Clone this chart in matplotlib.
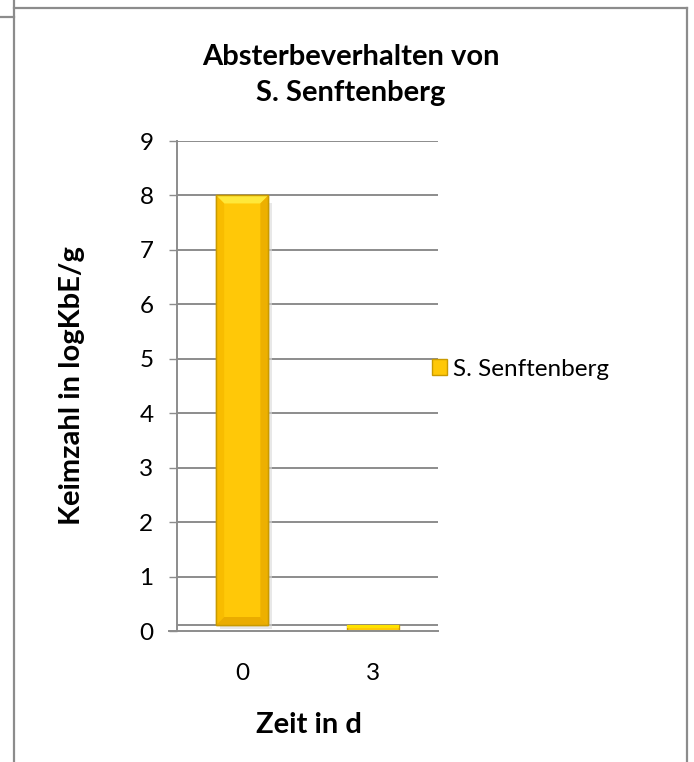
import matplotlib
matplotlib.use("Agg")
import matplotlib.pyplot as plt
import numpy as np
from matplotlib.patches import Polygon
from matplotlib.lines import Line2D

plt.rcParams['font.family'] = ['Lato', 'DejaVu Sans']

# data
categories = ["0", "3"]
values = [8.0, 0.0]
series_name = "S. Senftenberg"
title = "Absterbeverhalten von\nS. Senftenberg"
x_label = "Zeit in d"
y_label = "Keimzahl in logKbE/g"
y_ticks = list(range(0, 10))

W, H = 694, 762
fig = plt.figure(figsize=(W / 100, H / 100), dpi=100)

def fx(px):
    return px / W

def fy(py):
    return 1 - py / H

ax = fig.add_axes([fx(177), fy(631), fx(438) - fx(177), fy(141) - fy(631)])
ax.set_xlim(-0.5, 1.5)
ax.set_ylim(0, 9)

grid_c = "#8c8c8c"
floor_depth = 0.11  # back edge of the floor in the 3-D view

for v in y_ticks[1:]:
    ax.axhline(v, color=grid_c, lw=1.4, zorder=1)
ax.axhline(floor_depth, color=grid_c, lw=1.4, zorder=1)

gold = "#FFC808"
edge = "#C99A00"
xpos = np.arange(len(categories))
heights = np.array(values) - floor_depth
bars = ax.bar(xpos, heights, bottom=floor_depth, width=0.4, color=gold,
              edgecolor=edge, linewidth=1.0, zorder=3, label=series_name)

# bevel shading on the columns
inv = ax.transData.inverted()
def px_to_data(dxp, dyp):
    p0 = inv.transform((0, 0))
    p1 = inv.transform((dxp, dyp))
    return p1[0] - p0[0], p1[1] - p0[1]

bx, by = px_to_data(8, 8)
for r in bars:
    x0, w = r.get_x(), r.get_width()
    y0 = min(r.get_y(), r.get_y() + r.get_height())
    h = abs(r.get_height())
    y1 = y0 + h
    if h > 3 * by:
        top = Polygon([(x0, y1), (x0 + w, y1), (x0 + w - bx, y1 - by), (x0 + bx, y1 - by)],
                      closed=True, facecolor="#FFE83A", edgecolor="none", zorder=4)
        left = Polygon([(x0, y0), (x0, y1), (x0 + bx, y1 - by), (x0 + bx, y0 + by)],
                       closed=True, facecolor="#F8BC00", edgecolor="none", zorder=4)
        right = Polygon([(x0 + w, y0), (x0 + w, y1), (x0 + w - bx, y1 - by), (x0 + w - bx, y0 + by)],
                        closed=True, facecolor="#EDB000", edgecolor="none", zorder=4)
        bot = Polygon([(x0, y0), (x0 + w, y0), (x0 + w - bx, y0 + by), (x0 + bx, y0 + by)],
                      closed=True, facecolor="#EAAC00", edgecolor="none", zorder=4)
        for p in (top, left, right, bot):
            ax.add_patch(p)
        sx, sy = px_to_data(4, 4)
        ax.add_patch(Polygon([(x0 + sx, y0 - sy), (x0 + w + sx, y0 - sy), (x0 + w + sx, y1 - sy * 2),
                              (x0 + w, y1 - sy * 2), (x0 + w, y0), (x0 + sx, y0)],
                             closed=True, facecolor="#d9d9d9", edgecolor="none", alpha=0.6, zorder=2))
        ax.add_patch(Polygon([(x0, y0), (x0, y1), (x0 + w, y1), (x0 + w, y0)], closed=True,
                             facecolor="none", edgecolor=edge, lw=1.0, zorder=5))
    else:
        ax.add_patch(Polygon([(x0, y0 + h * 0.45), (x0 + w, y0 + h * 0.45), (x0 + w, y1), (x0, y1)],
                             closed=True, facecolor="#FFE200", edgecolor="none", zorder=4))

for s in ("top", "right"):
    ax.spines[s].set_visible(False)
ax.spines["left"].set_color(grid_c)
ax.spines["left"].set_linewidth(1.4)
ax.spines["bottom"].set_color(grid_c)
ax.spines["bottom"].set_linewidth(1.4)
ax.spines["bottom"].set_bounds(-0.5 - 0.031 * 2, 1.5)
ax.spines["bottom"].set_zorder(6)

ax.set_yticks(y_ticks)
ax.set_yticklabels([str(v) for v in y_ticks])
ax.set_xticks(xpos)
ax.set_xticklabels(categories)
ax.tick_params(axis="y", length=6, width=1.0, color=grid_c, pad=11, labelsize=17.5)
ax.tick_params(axis="x", length=0, pad=23, labelsize=17.5)
ax.set_facecolor("none")

fig.text(fx(351), fy(75), title, ha="center", va="center", fontsize=21,
         fontweight="bold", linespacing=1.52)
fig.text(fx(309), fy(725), x_label, ha="center", va="center", fontsize=21, fontweight="bold")
fig.text(fx(72), fy(386), y_label, ha="center", va="center", rotation=90,
         fontsize=21, fontweight="bold")

leg = ax.legend(loc="center left", bbox_to_anchor=(fx(432), fy(369)),
                bbox_transform=fig.transFigure, frameon=False, fontsize=17.5,
                handlelength=0.6, handleheight=0.6, handletextpad=0.25,
                borderpad=0, borderaxespad=0)
for hnd in leg.legend_handles:
    hnd.set_edgecolor(edge)

# surrounding frame
fc = "#8c8c8c"
fig.add_artist(Line2D([fx(14), fx(14)], [fy(0), fy(762)], color=fc, lw=1.6))
fig.add_artist(Line2D([fx(14), fx(687)], [fy(8), fy(8)], color=fc, lw=1.6))
fig.add_artist(Line2D([fx(687), fx(687)], [fy(8), fy(762)], color=fc, lw=1.6))
fig.add_artist(Line2D([fx(0), fx(14)], [fy(17), fy(17)], color=fc, lw=1.6))

fig.savefig("out.png", dpi=100)
